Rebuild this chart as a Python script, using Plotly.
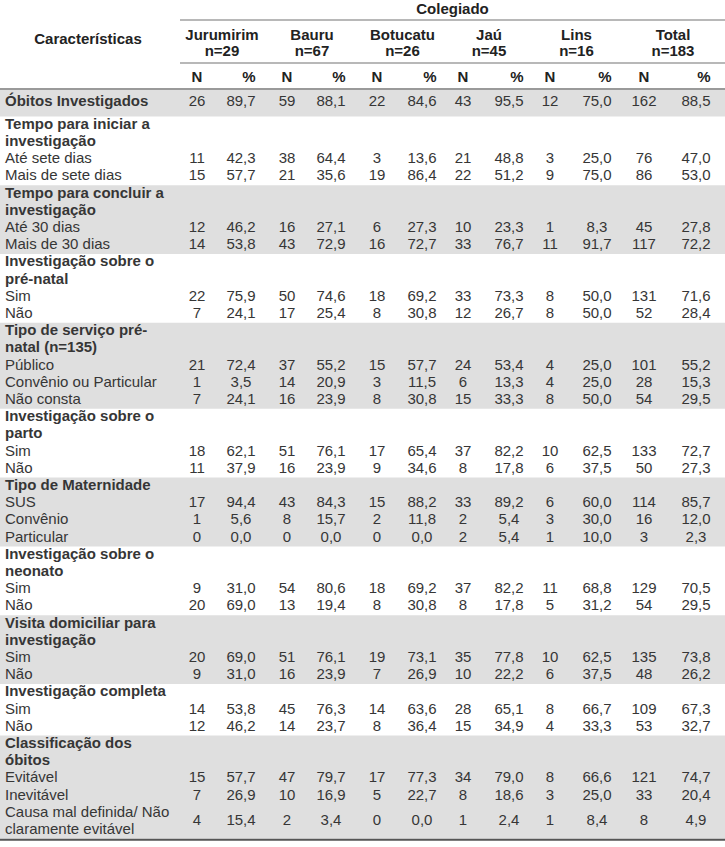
import plotly.graph_objects as go

# ---------------- data ----------------
colleges = ["Jurumirim", "Bauru", "Botucatu", "Jaú", "Lins", "Total"]
college_n = [29, 67, 26, 45, 16, 183]

summary_label = "Óbitos Investigados"
summary_n = [26, 59, 22, 43, 12, 162]
summary_pct = [89.7, 88.1, 84.6, 95.5, 75.0, 88.5]

section_titles = [
    "Tempo para iniciar a<br>investigação",
    "Tempo para concluir a<br>investigação",
    "Investigação sobre o<br>pré-natal",
    "Tipo de serviço pré-<br>natal (n=135)",
    "Investigação sobre o<br>parto",
    "Tipo de Maternidade",
    "Investigação sobre o<br>neonato",
    "Visita domiciliar para<br>investigação",
    "Investigação completa",
    "Classificação dos<br>óbitos",
]
section_items = [
    ["Até sete dias", "Mais de sete dias"],
    ["Até 30 dias", "Mais de 30 dias"],
    ["Sim", "Não"],
    ["Público", "Convênio ou Particular", "Não consta"],
    ["Sim", "Não"],
    ["SUS", "Convênio", "Particular"],
    ["Sim", "Não"],
    ["Sim", "Não"],
    ["Sim", "Não"],
    ["Evitável", "Inevitável", "Causa mal definida/ Não<br>claramente evitável"],
]
# N per item row (Jurumirim, Bauru, Botucatu, Jaú, Lins, Total)
item_n = [
    [11, 38, 3, 21, 3, 76],
    [15, 21, 19, 22, 9, 86],
    [12, 16, 6, 10, 1, 45],
    [14, 43, 16, 33, 11, 117],
    [22, 50, 18, 33, 8, 131],
    [7, 17, 8, 12, 8, 52],
    [21, 37, 15, 24, 4, 101],
    [1, 14, 3, 6, 4, 28],
    [7, 16, 8, 15, 8, 54],
    [18, 51, 17, 37, 10, 133],
    [11, 16, 9, 8, 6, 50],
    [17, 43, 15, 33, 6, 114],
    [1, 8, 2, 2, 3, 16],
    [0, 0, 0, 2, 1, 3],
    [9, 54, 18, 37, 11, 129],
    [20, 13, 8, 8, 5, 54],
    [20, 51, 19, 35, 10, 135],
    [9, 16, 7, 10, 6, 48],
    [14, 45, 14, 28, 8, 109],
    [12, 14, 8, 15, 4, 53],
    [15, 47, 17, 34, 8, 121],
    [7, 10, 5, 8, 3, 33],
    [4, 2, 0, 1, 1, 8],
]
# % per item row
item_pct = [
    [42.3, 64.4, 13.6, 48.8, 25.0, 47.0],
    [57.7, 35.6, 86.4, 51.2, 75.0, 53.0],
    [46.2, 27.1, 27.3, 23.3, 8.3, 27.8],
    [53.8, 72.9, 72.7, 76.7, 91.7, 72.2],
    [75.9, 74.6, 69.2, 73.3, 50.0, 71.6],
    [24.1, 25.4, 30.8, 26.7, 50.0, 28.4],
    [72.4, 55.2, 57.7, 53.4, 25.0, 55.2],
    [3.5, 20.9, 11.5, 13.3, 25.0, 15.3],
    [24.1, 23.9, 30.8, 33.3, 50.0, 29.5],
    [62.1, 76.1, 65.4, 82.2, 62.5, 72.7],
    [37.9, 23.9, 34.6, 17.8, 37.5, 27.3],
    [94.4, 84.3, 88.2, 89.2, 60.0, 85.7],
    [5.6, 15.7, 11.8, 5.4, 30.0, 12.0],
    [0.0, 0.0, 0.0, 5.4, 10.0, 2.3],
    [31.0, 80.6, 69.2, 82.2, 68.8, 70.5],
    [69.0, 19.4, 30.8, 17.8, 31.2, 29.5],
    [69.0, 76.1, 73.1, 77.8, 62.5, 73.8],
    [31.0, 23.9, 26.9, 22.2, 37.5, 26.2],
    [53.8, 76.3, 63.6, 65.1, 66.7, 67.3],
    [46.2, 23.7, 36.4, 34.9, 33.3, 32.7],
    [57.7, 79.7, 77.3, 79.0, 66.6, 74.7],
    [26.9, 16.9, 22.7, 18.6, 25.0, 20.4],
    [15.4, 3.4, 0.0, 2.4, 8.4, 4.9],
]

# ---------------- layout constants ----------------
W, H = 725, 847
N_X = [197, 287, 377, 463, 550, 644]
P_X = [241, 331, 422, 509, 597, 696]
LABEL_X = 5
PITCH = 17.2
BODY_Y0 = 125
SHADE = "#dfdfdf"
TXT = "#363636"
FONT = "Liberation Sans, Arial, sans-serif"
FS = 15


def fmt(v):
    return f"{v:.1f}".replace(".", ",")


def line_y(k):
    return BODY_Y0 + PITCH * k


lab_x, lab_y, lab_t = [], [], []
num_x, num_y, num_t = [], [], []
shapes = []

# header
hdr_x, hdr_y, hdr_t = [], [], []
hdr_x.append((N_X[0] - 17 + W) / 2); hdr_y.append(10); hdr_t.append("<b>Colegiado</b>")
hdr_x.append(88); hdr_y.append(40); hdr_t.append("<b>Características</b>")
for i, c in enumerate(colleges):
    cx = (N_X[i] + P_X[i]) / 2 + 3
    hdr_x += [cx, cx]
    hdr_y += [36, 52]
    hdr_t += [f"<b>{c}</b>", f"<b>n={college_n[i]}</b>"]
    hdr_x += [N_X[i], P_X[i] + 8]
    hdr_y += [78, 78]
    hdr_t += ["<b>N</b>", "<b>%</b>"]

hdr_line = dict(color="#a0a0a0", width=1.5)
shapes.append(dict(type="line", x0=180, x1=W, y0=20, y1=20, line=hdr_line))
shapes.append(dict(type="line", x0=180, x1=W, y0=63, y1=63, line=hdr_line))

# summary row
shapes.append(dict(type="rect", x0=0, x1=W, y0=89, y1=116.5, fillcolor=SHADE,
                   line=dict(width=0), layer="below"))
lab_x.append(LABEL_X); lab_y.append(102.5); lab_t.append(f"<b>{summary_label}</b>")
for i in range(len(colleges)):
    num_x += [N_X[i], P_X[i]]
    num_y += [102.5, 102.5]
    num_t += [str(summary_n[i]), fmt(summary_pct[i])]
shapes.append(dict(type="line", x0=0, x1=W, y0=89, y1=89,
                   line=dict(color="#9a9a9a", width=2)))

# body
k = 0
r = 0
for s, title in enumerate(section_titles):
    start = k
    for ln in title.split("<br>"):
        lab_x.append(LABEL_X); lab_y.append(line_y(k)); lab_t.append(f"<b>{ln}</b>")
        k += 1
    for item in section_items[s]:
        parts = item.split("<br>")
        ys = []
        for ln in parts:
            lab_x.append(LABEL_X); lab_y.append(line_y(k)); lab_t.append(ln)
            ys.append(line_y(k))
            k += 1
        yc = sum(ys) / len(ys)
        for i in range(len(colleges)):
            num_x += [N_X[i], P_X[i]]
            num_y += [yc, yc]
            num_t += [str(item_n[r][i]), fmt(item_pct[r][i])]
        r += 1
    if s % 2 == 1:
        shapes.append(dict(type="rect", x0=0, x1=W,
                           y0=line_y(start) - PITCH / 2, y1=line_y(k - 1) + PITCH / 2,
                           fillcolor=SHADE, line=dict(width=0), layer="below"))

bottom = line_y(k - 1) + PITCH / 2 + 1
shapes.append(dict(type="line", x0=0, x1=W, y0=bottom, y1=bottom,
                   line=dict(color="#555555", width=2)))

fig = go.Figure()
fig.add_trace(go.Scatter(x=hdr_x, y=hdr_y, text=hdr_t, mode="text",
                         textposition="middle center", cliponaxis=False,
                         textfont=dict(family=FONT, size=FS, color="#222222"),
                         hoverinfo="skip"))
fig.add_trace(go.Scatter(x=lab_x, y=lab_y, text=lab_t, mode="text",
                         textposition="middle right", cliponaxis=False,
                         textfont=dict(family=FONT, size=FS, color=TXT),
                         hoverinfo="skip"))
fig.add_trace(go.Scatter(x=num_x, y=num_y, text=num_t, mode="text",
                         textposition="middle center", cliponaxis=False,
                         textfont=dict(family=FONT, size=FS, color=TXT),
                         hoverinfo="skip"))

fig.update_layout(
    width=W, height=H,
    margin=dict(l=0, r=0, t=0, b=0),
    paper_bgcolor="white", plot_bgcolor="white",
    showlegend=False,
    xaxis=dict(range=[0, W], visible=False, fixedrange=True),
    yaxis=dict(range=[H, 0], visible=False, fixedrange=True),
    shapes=shapes,
)
fig.write_html(
    "out.html",
    config={"displayModeBar": False},
    post_script="document.body.style.margin='0';document.body.style.padding='0';",
)
